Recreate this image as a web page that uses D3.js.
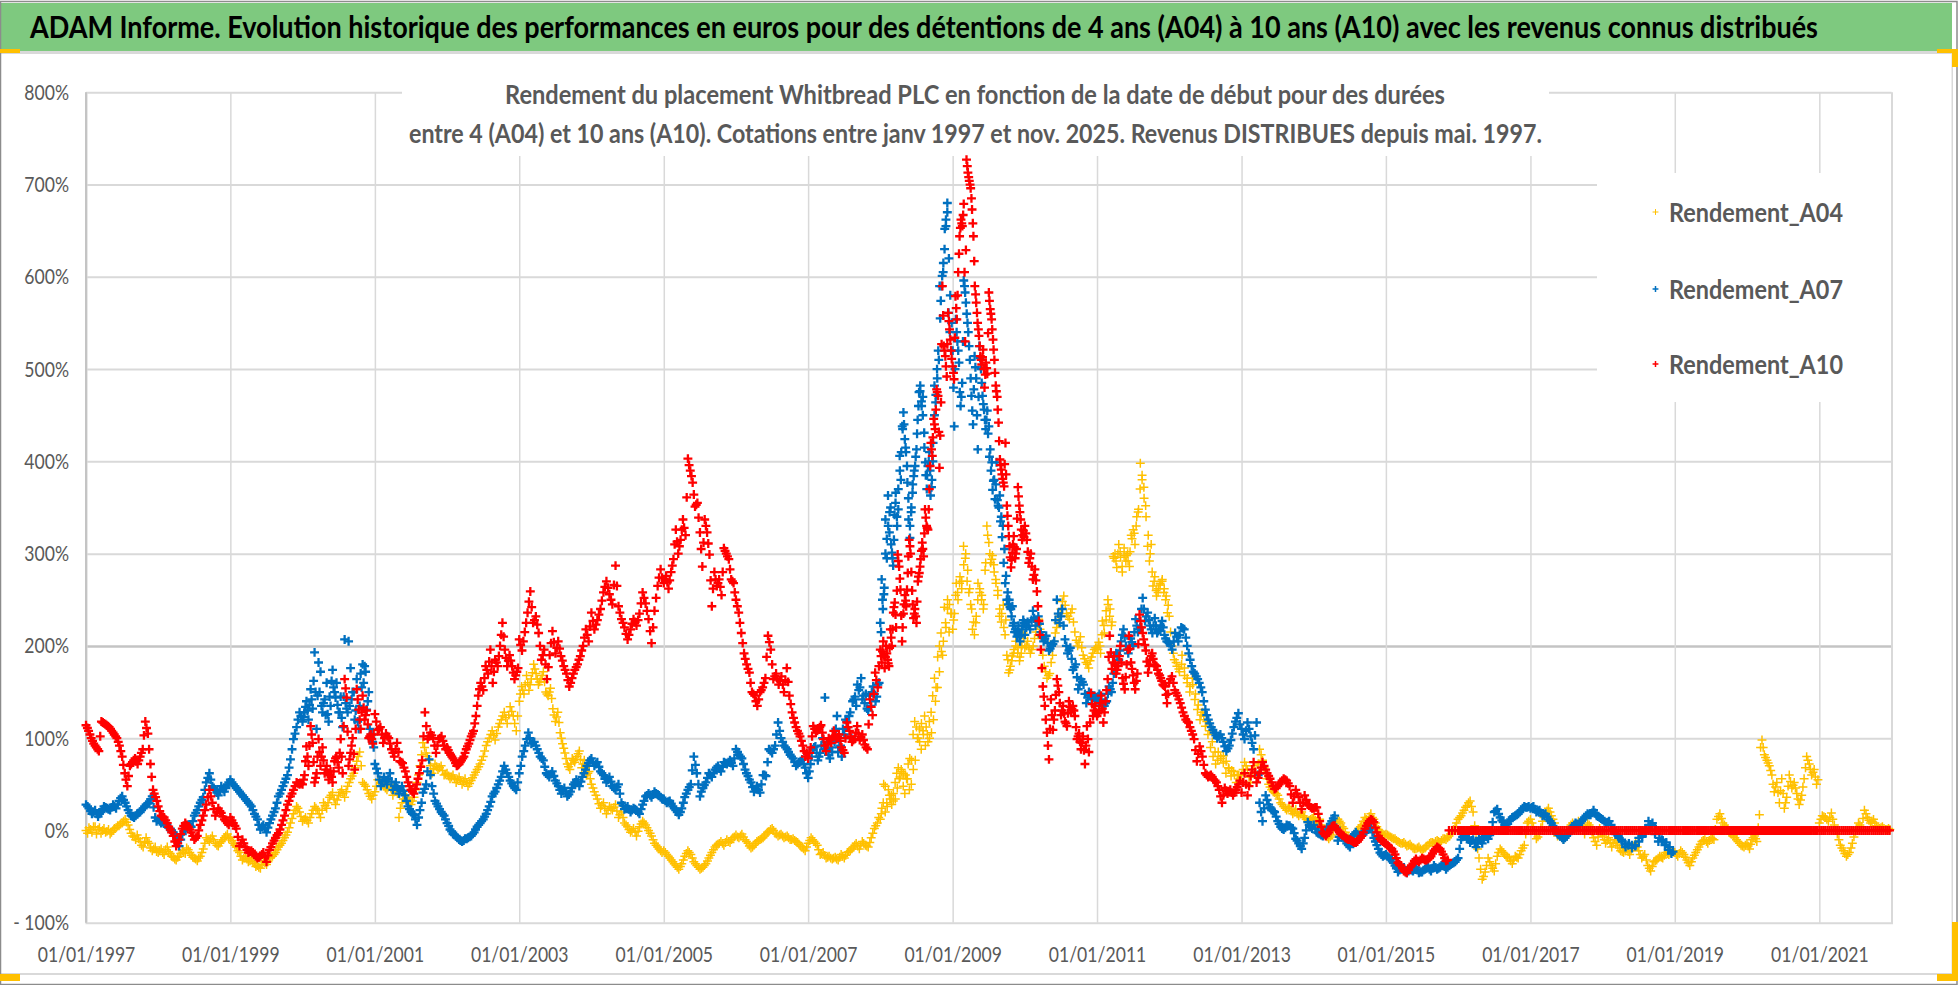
<!DOCTYPE html>
<html>
<head>
<meta charset="utf-8">
<script src="https://cdn.jsdelivr.net/npm/d3@7"></script>
<style>
  body { margin: 0; background: #fff; }
  svg { display: block; }
  text { font-family: Lato, "Open Sans", sans-serif; }
</style>
</head>
<body>
<svg id="chart" width="1958" height="985"></svg>
<script>
// each series has one row per year, values (in %) are spread evenly over the year
// the "b" rows are a second reading of the same band, half a step later
const firstYear = 1997;

const rendementA04 = [
  [0,3,-2,4,1,-3,2,-1,-4,0,3,5,8,12,6,-3,-7,-5,-12,-18,-8,-14,-22,-18],
  [-24,-20,-26,-18,-25,-29,-32,-28,-22,-25,-21,-27,-30,-33,-28,-20,-8,-12,-6,-14,-17,-12,-8,-4],
  [-8,-14,-18,-24,-32,-28,-34,-30,-36,-38,-41,-34,-37,-30,-28,-24,-18,-14,-8,-2,8,18,26,20],
  [10,14,8,18,26,22,14,30,24,36,41,28,38,44,36,48,56,62,75,85,52,48,40,34],
  [42,55,52,48,44,50,38,46,14,30,38,34,28,36,52,70,95,84,76,62,72,66,70,60],
  [62,56,60,52,58,50,56,48,54,60,66,72,80,92,100,108,98,112,120,128,116,134,124,108],
  [140,156,148,168,152,164,180,170,158,164,172,150,146,154,132,118,128,106,94,84,72,66,78,74,80,86,68,76,60,64],
  [50,42,34,24,30,18,26,22,28,14,20,8,4,-2,2,-6,4,10,6,0,-6,-14,-18,-22],
  [-22,-26,-30,-34,-38,-42,-36,-28,-22,-26,-34,-38,-42,-40,-36,-30,-24,-18,-15,-12,-16,-10,-13,-8],
  [-5,-8,-4,-10,-14,-19,-16,-12,-10,-8,-4,-1,2,-3,-6,-4,-8,-6,-10,-9,-12,-15,-18,-22],
  [-14,-8,-12,-16,-26,-24,-30,-28,-31,-29,-32,-26,-30,-24,-22,-18,-14,-20,-12,-16,-18,-8,2,8],
  [12,24,50,20,30,44,34,28,40,52,62,68,58,64,48,40,56,72,78,76,104,118,112,100,96,88,108,124,112,96,100,128,146,165,155,188,200,214,190,242,220,250,215,235],
  [218,235,268,250,275,262,308,295,270,258,245,218,212,232,268,258,250,240,282,330,312,290,298,280,268,255,232,226,244,212,190,171,178,189,196,205,192,184,192,214],
  [198,205,192,200,215,229,210,178,165,170,190,214,225,240,254,235,229,240,215,200,210,190,182,176,188,196],
  [198,204,192,227,214,238,250,232,222,297,300,285,310,296,280,306,292,300,286,320,326,310,340,348,398,380,372,352,308,292,310,265,275,254,262,268,270,258,250,236],
  [232,200,185,178,172,190,168,160,150,165,142,131,120,128,113,104,90,80,72,85,78,73,62,68,59,64,52,60],
  [60,74,66,52,70,58,88,76,62,50,44,41,38,30,26,22,26,18,23,16,20,14,10,12],
  [14,8,12,2,-4,-9,-5,4,12,8,2,-6,-9,-10,-4,2,6,14,10,18,12,4,-2,-4],
  [-4,-6,-8,-9,-12,-14,-13,-17,-15,-19,-20,-18,-22,-19,-16,-13,-14,-11,-13,-9,-10,-6,-2,4],
  [12,16,22,27,32,20,-10,-30,-53,-45,-30,-38,-44,-28,-20,-24,-28,-30,-36,-28,-30,-22,-16,8],
  [12,4,-9,-4,10,18,24,16,8,-6,-2,-10,-4,4,8,2,10,6,-4,8,4,-8,-16,2],
  [-6,-14,-8,-18,-10,-16,-22,-24,-20,-26,-18,-14,-22,-30,-26,-38,-44,-34,-32,-28,-30,-24,-26,-22],
  [-24,-28,-22,-26,-32,-38,-30,-24,-18,-12,-10,-14,-8,-10,12,18,8,4,-2,-4,-8,-12,-16,-18],
  [-14,-20,-10,-6,-12,17,98,82,76,70,60,42,52,30,56,24,36,60,46,52,40,28,38,56,80,72,60,66,50],
  [8,16,14,10,19,6,-4,-16,-22,-28,-24,-14,-1,8,4,22,14,8,12,5,2,4,1,2]
];

const rendementA04b = [
  [-3,1,4,-4,3,0,-2,1,-2,2,5,7,10,9,1,-6,-10,-9,-16,-13,-12,-19,-20,-23],
  [-22,-24,-21,-23,-28,-31,-29,-25,-24,-19,-24,-29,-31,-30,-24,-14,-10,-9,-10,-16,-14,-10,-6,-9],
  [-11,-16,-22,-28,-30,-31,-33,-34,-39,-40,-37,-35,-34,-29,-26,-21,-16,-11,-5,3,13,22,24,15],
  [12,11,14,22,24,18,22,27,30,38,34,33,41,40,42,52,59,68,80,70,50,44,37,38],
  [48,54,50,46,47,44,42,40,24,34,36,31,32,44,60,82,90,80,70,67,69,68,65,61],
  [59,58,56,55,54,53,52,51,57,63,69,76,86,96,104,103,105,116,124,122,125,129,116,124],
  [148,152,158,160,158,171,175,164,161,168,161,148,150,143,125,123,117,100,89,78,69,72,76,77,83,77,72,68,62,56],
  [46,38,29,27,24,22,24,25,21,17,14,6,1,0,-2,-1,7,8,3,-3,-10,-16,-20,-24],
  [-24,-28,-32,-36,-40,-39,-32,-25,-24,-30,-36,-40,-41,-38,-33,-27,-21,-16,-14,-14,-13,-12,-10,-7],
  [-7,-6,-7,-12,-17,-18,-14,-11,-9,-6,-2,1,0,-4,-5,-6,-7,-8,-10,-11,-13,-17,-20,-18],
  [-11,-10,-14,-21,-25,-27,-29,-30,-30,-31,-29,-28,-27,-23,-20,-16,-17,-16,-14,-17,-13,-3,5,14],
  [18,30,48,26,38,38,32,34,46,56,66,62,60,56,44,50,66,76,100,110,116,104,92,104,118,106,120,140,155,172,194,205,225,240,245,235],
  [228,255,258,268,270,288,300,282,262,240,226,225,250,262,255,245,290,320,300,294,288,272,260,240,235,220,228,185,174,184,192,200,198,188,200,208],
  [200,198,196,208,222,218,190,172,168,182,205,220,232,248,244,232,236,226,206,204,198,186,180,184,192,198],
  [196,200,212,222,228,245,240,226,295,292,300,302,286,298,298,292,302,316,322,330,345,370,385,360,340,320,300,280,270,260,258,266,272,262,254,244],
  [215,192,182,175,180,176,165,156,158,148,136,125,124,118,108,96,85,76,80,81,75,67,65,60,60,56],
  [66,70,58,62,64,72,82,68,56,47,42,40,34,28,24,24,21,20,18,18,16,12,11,13],
  [11,10,6,-1,-7,-7,0,8,10,4,-2,-8,-10,-7,-1,4,10,12,15,14,8,1,-3,-5],
  [-5,-7,-9,-11,-13,-14,-15,-16,-17,-20,-19,-20,-20,-17,-14,-13,-12,-12,-11,-9,-8,-4,1,8],
  [14,19,25,30,26,5,-20,-42,-50,-38,-34,-41,-36,-24,-22,-26,-29,-33,-32,-29,-26,-19,-4,10],
  [8,-3,-7,3,14,21,20,12,1,-4,-6,-7,0,6,5,6,8,1,2,6,-2,-12,-7,-2],
  [-10,-11,-13,-14,-13,-19,-23,-22,-23,-22,-16,-18,-26,-28,-32,-41,-39,-33,-30,-29,-27,-25,-24,-23],
  [-26,-25,-24,-29,-35,-34,-27,-21,-15,-11,-12,-11,-9,1,15,13,6,1,-3,-6,-10,-14,-17,-16],
  [-17,-15,-8,-9,3,90,90,79,73,65,50,47,41,43,40,30,48,53,49,46,34,33,47,68,76,66,63,58,55],
  [12,15,12,14,12,0,-10,-19,-25,-26,-19,-7,3,6,13,18,11,10,8,3,3,2,1,1]
];

const rendementA07 = [
  [28,24,18,22,15,20,26,24,22,28,24,32,37,30,22,16,14,18,20,24,28,30,37,14],
  [12,8,10,4,2,-2,-6,-17,-4,2,6,4,16,22,30,36,52,62,48,44,38,48,42,50],
  [55,50,46,42,38,34,30,26,18,12,1,6,-2,8,16,24,37,44,52,60,77,99,112,128],
  [118,128,140,120,153,132,193,110,182,172,128,142,160,118,135,174,150,160,128,145,112,207,132,205,176,150,120,164,110,170,180,178,131,150,100,96],
  [72,62,48,58,50,62,44,52,40,48,38,26,20,17,6,22,41,50,77,48,32,26,20,16],
  [8,1,-4,-6,-10,-12,-9,-8,-6,-2,4,8,12,18,26,37,42,50,58,70,62,54,48,44],
  [62,80,92,106,94,96,88,80,76,62,58,64,54,48,40,46,37,42,50,55,48,58,66,73],
  [78,70,74,64,60,52,58,48,44,50,30,23,26,20,24,22,18,28,37,40,36,42,39,36],
  [34,30,32,26,22,17,24,36,44,50,80,62,37,46,52,62,58,66,70,64,74,72,76,70],
  [88,82,78,66,59,52,42,48,41,60,59,88,84,92,117,100,92,88,82,78,70,74,77,68],
  [57,72,88,91,76,84,100,144,96,78,85,96,124,90,80,104,118,124,100,142,135,152,165,146,148,130,135,156,140,158],
  [225,272,240,263,337,295,363,323,350,301,287,342,366,330,348,406,380,438,453,424,410,377,337,317,345,366,384,395,413,445,475,482,460,470,431,399,370,395,410,363,380,420,482,464,500,520,590,574,601,615,652,662,680,561,540,520],
  [520,438,554,530,507,460,485,596,583,560,540,510,471,440,514,490,413,525,500,471,456,435,455,438,413,399,379,359,399,352,363,340,330,305,276,258,250,240,243,225,218,210,222,205,218,228],
  [212,226,218,238,222,232,215,205,211,195,200,205,250,225,240,207,192,198,174,180,153,164,158,138,150,142,146],
  [142,148,136,135,140,156,150,170,192,185,205,218,200,192,208,200,229,215,220,252,227,236,222,214,230,214,218,227,212,205],
  [203,196,214,205,220,218,200,185,172,167,160,150,131,120,112,106,100,104,96,86,92,105,118,127],
  [110,99,117,102,88,117,30,10,38,28,22,20,10,4,1,6,5,2,-9,-14,-20,-8,9,4],
  [6,-2,-4,-6,-2,4,10,16,-11,-4,-8,-14,-18,-6,-2,-6,-4,-2,1,4,-8,-16,-24,-28],
  [-26,-30,-31,-38,-45,-42,-40,-46,-42,-44,-40,-46,-45,-42,-40,-44,-38,-42,-40,-36,-42,-38,-36,-34],
  [-30,-10,-5,-8,-13,-10,-18,-8,-14,-6,-9,-2,20,23,14,9,4,10,14,16,18,22,26,25],
  [24,26,20,22,16,18,12,8,2,-4,-6,-10,-6,-2,4,8,6,10,14,18,17,22,16,14],
  [12,8,10,2,-4,-8,-12,-18,-14,-19,-16,-8,-6,2,10,6,-4,-12,-10,-16,-21,-25]
];

const rendementA07b = [
  [26,21,20,18,18,23,25,23,25,26,28,35,33,26,19,15,16,19,22,26,29,34,25,10],
  [10,9,7,3,0,-4,-10,-10,-1,4,5,10,19,26,33,44,57,55,46,41,43,45,46,52],
  [52,48,44,40,36,32,28,22,15,6,4,2,3,12,20,30,40,48,56,68,88,105,120,124],
  [123,134,130,136,142,162,150,146,150,135,138,125,126,145,162,155,144,136,128,122,145,138,128,135,142,150,130,118,135,155,160,172,140,110,104,90],
  [67,55,53,54,56,53,48,46,44,43,32,23,18,12,14,30,45,64,60,40,29,23,18,12],
  [5,-1,-5,-8,-11,-11,-9,-7,-4,1,6,10,15,22,31,40,46,54,64,66,58,51,46,52],
  [70,86,99,100,95,92,84,78,69,60,61,59,51,44,43,42,39,46,52,52,53,62,70,76],
  [74,72,69,62,56,55,53,46,47,40,27,24,23,22,23,20,23,32,38,38,39,40,38,34],
  [32,31,29,24,20,20,30,40,47,65,71,50,42,49,57,60,62,68,67,69,73,74,73,78],
  [85,80,72,62,55,47,45,44,50,60,74,86,88,104,108,96,90,85,80,74,72,75,72,62],
  [64,80,90,84,80,92,92,88,82,90,98,110,85,92,110,120,112,128,140,145,158,155,142,138,132,146,150,148,145,160],
  [215,250,256,300,316,330,345,310,295,315,355,340,370,390,410,435,440,415,395,360,330,350,375,390,405,430,460,476,465,450,415,385,385,400,390,372,400,450,472,490,510,555,590,605,630,655,670,620,580,550],
  [480,500,540,520,475,470,530,590,572,550,525,490,455,478,502,450,470,512,485,462,445,445,430,405,390,369,380,375,358,350,335,318,290,268,250,245,242,232,222,215,215,216,210,212,222,225],
  [220,222,228,230,226,224,210,208,203,197,202,228,235,232,222,200,195,186,177,166,158,161,148,144,146,144,140],
  [145,142,135,138,148,153,160,181,190,195,212,210,196,200,204,215,222,218,240,240,232,228,218,222,222,216,222,220,208,204],
  [200,205,210,212,219,209,192,178,170,164,155,140,125,116,109,103,102,100,91,89,98,112,122,115],
  [104,108,110,95,103,60,20,24,33,25,21,15,7,2,3,5,3,-3,-11,-17,-14,0,6,2],
  [2,-3,-5,-4,1,7,13,3,-7,-6,-11,-16,-12,-4,-4,-5,-3,-1,2,-2,-12,-20,-26,-27],
  [-28,-31,-35,-41,-43,-41,-43,-44,-43,-42,-43,-45,-43,-41,-42,-41,-40,-41,-38,-39,-40,-37,-35,-32],
  [-20,-7,-6,-10,-11,-14,-13,-11,-10,-7,-5,9,21,18,11,6,7,12,15,17,20,24,25,26],
  [25,23,21,19,17,15,10,5,-1,-5,-8,-8,-4,1,6,7,8,12,16,17,19,19,15,13],
  [10,9,6,-1,-6,-10,-15,-16,-16,-17,-12,-7,-2,6,8,1,-8,-11,-13,-18,-23]
];

const rendementA10 = [
  [114,108,100,94,90,86,118,116,114,112,108,104,100,92,80,62,48,70,74,78,72,80,88,118,105,72,44,36],
  [26,16,14,8,1,-6,-17,-10,2,8,4,-2,-10,-6,6,16,28,44,30,16,24,19,12,8],
  [14,8,2,-17,-10,-18,-24,-22,-26,-30,-28,-24,-34,-21,-14,-8,-3,6,16,28,37,44,52,50],
  [50,60,91,70,113,95,52,62,99,70,90,62,70,55,64,52,75,80,68,99,62,164,144,70,84,100,66,153,131,110,146,120,130,100,104,94],
  [126,109,112,95,105,100,88,80,95,75,73,64,52,44,40,50,62,76,128,99,106,100,84,99,102,92],
  [90,84,80,76,70,72,76,80,88,94,102,108,124,146,160,152,178,170,196,160,185,178,200,225,196,178,190,178,164,172],
  [207,195,215,236,259,225,232,214,185,196,164,190,216,192,205,189,178,170,156,165,174,180,189,200,218,205],
  [236,218,228,240,258,270,256,245,287,243,229,220,207,218,229,222,235,258,246,229,203,238,265,283],
  [268,276,262,280,294,326,300,315,337,320,403,390,377,351,355,323,286,337,323,299,243,280,265,272,255,306,300,294,272,268],
  [250,236,214,192,180,171,150,146,135,150,155,165,211,196,164,170,158,167,150,176,146,128,117,108,102,92,80],
  [78,90,113,106,110,114,99,86,100,95,108,99,104,90,84,117,108,96,99,113,98,104,93,88,142,125,171,155],
  [196,182,205,176,200,185,178,218,200,236,247,220,299,286,261,205,235,255,243,279,315,300,260,230,240,225,270,279,294,312,297,348,330,326,370,420,406,446,435,478,471,393,464,590,525,514,492,561,543,520],
  [503,489,579,554,605,644,662,655,679,530,727,713,704,696,673,644,590,572,550,536,514,505,521,480,507,495,583,565,554,532,510,482,470,442,402,391,381,373,420,352,330,308,285,301,319,295,305,372,352,337,315,325],
  [330,315,290,300,272,283,259,227,196,156,135,106,77,142,109,130,164,150,125,135,118,113,140,128,135,124,99,105,88,102,72,113,85,149,124,135],
  [124,130,146,117,140,164,211,175,189,170,178,200,165,153,180,211,182,168,153,170,234,220,207,195,171,185,192,180,178,170,165,158,156,138],
  [160,167,152,146,138,128,120,117,108,99,75,91,80,62,58,60,55,52,44,30,46,40,44,38,44,50],
  [41,62,38,59,74,52,62,74,66,59,52,45,48,52,56,54,48,30,44,36,23,38,28,25],
  [24,25,10,-2,-6,-2,4,5,0,-4,-6,-9,-10,-12,-13,-10,-6,2,8,12,9,-2,-9,-12],
  [-14,-18,-20,-26,-35,-38,-44,-46,-40,-36,-31,-34,-30,-32,-31,-28,-22,-18,-20,-26,-33,0,0,0],
  [0,0,0,0,0,0,0,0,0,0,0,0,0,0,0,0,0,0,0,0,0,0,0,0,0,0,0,0,0,0,0,0,0,0,0,0],
  [0,0,0,0,0,0,0,0,0,0,0,0,0,0,0,0,0,0,0,0,0,0,0,0,0,0,0,0,0,0,0,0,0,0,0,0],
  [0,0,0,0,0,0,0,0,0,0,0,0,0,0,0,0,0,0,0,0,0,0,0,0,0,0,0,0,0,0,0,0,0,0,0,0],
  [0,0,0,0,0,0,0,0,0,0,0,0,0,0,0,0,0,0,0,0,0,0,0,0,0,0,0,0,0,0,0,0,0,0,0,0],
  [0,0,0,0,0,0,0,0,0,0,0,0,0,0,0,0,0,0,0,0,0,0,0,0,0,0,0,0,0,0,0,0,0,0,0,0],
  [0,0,0,0,0,0,0,0,0,0,0,0,0,0,0,0,0,0,0,0,0,0,0,0,0,0,0,0,0,0,0,0,0,0,0,0]
];

const rendementA10b = [
  [111,104,97,92,88,102,117,115,113,110,106,102,96,86,71,55,59,72,76,75,76,84,103,111,88,58,40,32],
  [21,15,11,4,-2,-12,-14,-4,5,6,1,-6,-8,0,11,22,36,37,23,20,21,15,10,6],
  [11,5,-7,-14,-14,-21,-23,-24,-28,-29,-26,-29,-27,-18,-11,-5,1,11,22,32,40,48,51,51],
  [55,75,80,92,104,74,57,80,85,80,76,66,62,60,58,64,78,74,84,80,113,154,107,77,92,83,110,142,120,128,133,125,115,102,99,104],
  [118,110,104,100,102,94,84,88,85,74,68,58,48,42,45,56,69,102,113,102,103,92,92,100,97,88],
  [87,82,78,73,71,74,78,84,91,98,105,116,135,153,156,165,174,183,178,172,182,189,212,210,187,184,184,171,168,176],
  [201,205,225,248,242,228,223,200,190,180,177,203,204,198,197,184,174,163,160,170,177,185,195,209,212,221],
  [227,223,234,249,264,263,250,266,265,236,225,213,212,224,226,228,246,252,238,216,220,252,274,274],
  [272,269,271,287,310,313,308,326,328,361,396,384,364,353,339,305,312,330,311,271,262,272,268,264,280,303,297,283,270,258],
  [243,225,203,186,175,160,148,140,142,152,160,188,204,180,167,164,162,158,163,161,137,122,112,105,97,86,84],
  [84,102,110,108,112,106,92,93,98,102,103,101,97,87,100,112,102,98,106,105,101,98,90,115,134,148,163,178],
  [189,194,190,188,192,181,198,209,218,242,234,260,292,273,233,220,245,249,261,297,308,280,245,235,232,248,275,286,303,305,322,339,328,348,395,413,426,440,456,475,432,428,527,558,520,503,527,552,532,511],
  [496,534,566,580,625,653,658,667,605,629,720,708,700,685,658,617,581,561,543,525,510,513,500,494,501,539,574,560,543,521,496,476,456,422,396,386,377,397,386,341,319,296,293,310,307,300,338,362,345,326,320,318],
  [322,302,295,286,277,271,243,212,176,145,120,92,110,125,120,147,157,138,130,127,116,127,134,132,130,112,102,96,95,87,92,99,117,137,130,128],
  [127,138,132,128,152,188,193,182,180,174,189,182,159,166,196,197,175,160,162,202,227,214,201,183,178,189,186,179,174,168,162,157,147,148],
  [164,160,149,142,133,124,118,112,104,87,83,86,71,60,59,58,54,48,37,38,43,42,41,41,47,54],
  [52,50,48,66,63,57,68,70,62,56,48,46,50,54,55,51,39,37,40,30,30,33,27,24],
  [25,18,4,-4,-4,1,5,2,-2,-5,-8,-10,-11,-13,-12,-8,-2,5,10,11,3,-6,-11,-13],
  [-16,-19,-23,-30,-37,-41,-45,-43,-38,-33,-33,-32,-31,-32,-30,-25,-20,-19,-23,-30,-32,null,null,null]
];

const seriesNames = ['Rendement_A04', 'Rendement_A07', 'Rendement_A10'];
const seriesColours = ['#FFC000', '#0070C0', '#FF0000'];
const yearTicks = [1997,1999,2001,2003,2005,2007,2009,2011,2013,2015,2017,2019,2021];
const percentTicks = [800,700,600,500,400,300,200,100,0,-100];

const bannerTitle = 'ADAM Informe. Evolution historique des performances en euros pour des détentions de 4 ans (A04) à 10 ans (A10) avec les revenus connus distribués';
const chartTitle = [
  'Rendement du placement Whitbread PLC en fonction de la date de début pour des durées',
  'entre 4 (A04) et 10 ans (A10).  Cotations entre janv 1997 et nov. 2025. Revenus DISTRIBUES depuis mai. 1997.'
];

const svg = d3.select('#chart');
const x = d3.scaleTime().domain([new Date(1997, 0, 1), new Date(2022, 0, 1)]).range([86, 1891.5]);
const y = d3.scaleLinear().domain([-100, 800]).range([922.7, 92.3]);
const textGrey = '#595959';

// squeeze text horizontally, the original font is narrower than Lato
function squeeze(sel, ratio) {
  sel.each(function () {
    this.setAttribute('textLength', this.getComputedTextLength() * ratio);
    this.setAttribute('lengthAdjust', 'spacingAndGlyphs');
  });
}

function toPoints(rows, shift) {
  const points = [];
  rows.forEach((row, i) => {
    row.forEach((v, j) => {
      if (v === null) return;
      points.push({ date: new Date(firstYear + i, 0, 1 + Math.round((365 * (j + shift)) / row.length)), value: v });
    });
  });
  return points;
}

// frame and banner
svg.append('rect').attr('width', 1958).attr('height', 985).attr('fill', '#fff');
svg.append('rect').attr('x', 0).attr('y', 3).attr('width', 1952).attr('height', 48).attr('fill', '#7EC97F');
svg.append('rect').attr('x', 0).attr('y', 51).attr('width', 1952).attr('height', 3).attr('fill', '#d9d9d9');
svg.append('rect').attr('x', 0).attr('y', 973).attr('width', 1952).attr('height', 2).attr('fill', '#d9d9d9');
svg.append('rect').attr('x', 1951.5).attr('y', 51).attr('width', 1.5).attr('height', 923).attr('fill', '#d9d9d9');
svg.append('rect').attr('x', 0.5).attr('y', 1.5).attr('width', 1956.5).attr('height', 983)
  .attr('fill', 'none').attr('stroke', '#8c8c8c').attr('stroke-width', 1.5);

[[0, 49, 20, 4], [1937, 49, 21, 4], [1952, 49, 6, 18], [0, 974, 20, 7], [1937, 974, 21, 7], [1952, 922, 6, 59]].forEach((r) => {
  svg.append('rect').attr('x', r[0]).attr('y', r[1]).attr('width', r[2]).attr('height', r[3]).attr('fill', '#FFC000');
});

// banner text is scaled to its width instead of using textLength
const banner = svg.append('text').attr('font-size', 31).attr('font-weight', 700).attr('fill', '#000').text(bannerTitle);
const bannerScale = 1789 / banner.node().getComputedTextLength();
banner.attr('transform', `translate(30,38) scale(${bannerScale},1)`);

// grid
const gridTop = y(800);
const gridBottom = y(-100);
const gridY = svg.append('g')
  .attr('transform', 'translate(86,0)')
  .call(d3.axisLeft(y).tickValues(percentTicks.filter((d) => d !== 0 && d !== -100)).tickSize(-(x.range()[1] - 86)).tickFormat(''));
gridY.select('.domain').remove();
gridY.selectAll('line').attr('stroke', (d) => (d === 200 ? '#c4c4c4' : '#d9d9d9')).attr('stroke-width', (d) => (d === 200 ? 2.5 : 2));

const gridX = svg.append('g')
  .attr('transform', `translate(0,${gridBottom})`)
  .call(d3.axisBottom(x).tickValues(yearTicks.map((t) => new Date(t, 0, 1))).tickSize(-(gridBottom - gridTop)).tickFormat(''));
gridX.select('.domain').attr('stroke', '#d9d9d9').attr('stroke-width', 2);
gridX.selectAll('line').attr('stroke', '#d9d9d9').attr('stroke-width', 1.5);

svg.append('line').attr('x1', 86).attr('x2', 86).attr('y1', gridTop).attr('y2', gridBottom)
  .attr('stroke', '#c4c4c4').attr('stroke-width', 2);

// white boxes of the chart title and legend, they hide the grid
svg.append('rect').attr('x', 402).attr('y', 88).attr('width', 1147).attr('height', 68).attr('fill', '#fff');
svg.append('rect').attr('x', 1597).attr('y', 173).attr('width', 294).attr('height', 229).attr('fill', '#fff');

// axes labels
const axisY = svg.append('g')
  .attr('transform', 'translate(86,0)')
  .call(d3.axisLeft(y).tickValues(percentTicks).tickSize(0).tickPadding(17)
    .tickFormat((d) => (d < 0 ? '- ' + Math.abs(d) + '%' : d + '%')));
axisY.select('.domain').remove();
axisY.selectAll('text').attr('font-size', 22).attr('fill', textGrey).call(squeeze, 0.8);

const axisX = svg.append('g')
  .attr('transform', `translate(0,${gridBottom})`)
  .call(d3.axisBottom(x).tickValues(yearTicks.map((t) => new Date(t, 0, 1))).tickSize(0)
    .tickFormat(d3.timeFormat('%d/%m/%Y')));
axisX.select('.domain').remove();
axisX.selectAll('text').attr('font-size', 22).attr('fill', textGrey).attr('y', 39).attr('dy', 0).call(squeeze, 0.8);

// chart title
chartTitle.forEach((line, i) => {
  svg.append('text').attr('x', i === 0 ? 975 : 975.5).attr('y', i === 0 ? 104 : 142.5)
    .attr('text-anchor', 'middle').attr('font-size', 27).attr('font-weight', 700).attr('fill', textGrey)
    .attr('textLength', i === 0 ? 940 : 1133).attr('lengthAdjust', 'spacingAndGlyphs').text(line);
});

// points
const plusMark = d3.symbol().type(d3.symbolPlus).size(28);
const mainRows = [rendementA04, rendementA07, rendementA10];
const secondRows = [rendementA04b, rendementA07b, rendementA10b];
mainRows.forEach((rows, i) => {
  svg.append('g')
    .attr('class', 'series-' + seriesNames[i])
    .selectAll('path')
    .data(toPoints(secondRows[i], 0.5).concat(toPoints(rows, 0)))
    .join('path')
    .attr('d', plusMark)
    .attr('transform', (d) => `translate(${x(d.date)},${y(d.value)})`)
    .attr('fill', 'none')
    .attr('stroke', seriesColours[i])
    .attr('stroke-width', i === 0 ? 1.5 : 2.3);
});

// legend
const legendY = [212, 289, 364];
const legend = svg.append('g').selectAll('g').data(seriesNames).join('g')
  .attr('transform', (d, i) => `translate(0,${legendY[i]})`);
legend.append('path')
  .attr('d', d3.symbol().type(d3.symbolPlus).size(13))
  .attr('transform', 'translate(1655.5,0)')
  .attr('fill', 'none')
  .attr('stroke', (d, i) => seriesColours[i])
  .attr('stroke-width', (d, i) => (i === 0 ? 1 : 1.5));
legend.append('text')
  .attr('x', 1669).attr('y', 9.5)
  .attr('font-size', 27).attr('font-weight', 700).attr('fill', textGrey)
  .attr('textLength', 174).attr('lengthAdjust', 'spacingAndGlyphs')
  .text((d) => d);
</script>
</body>
</html>
